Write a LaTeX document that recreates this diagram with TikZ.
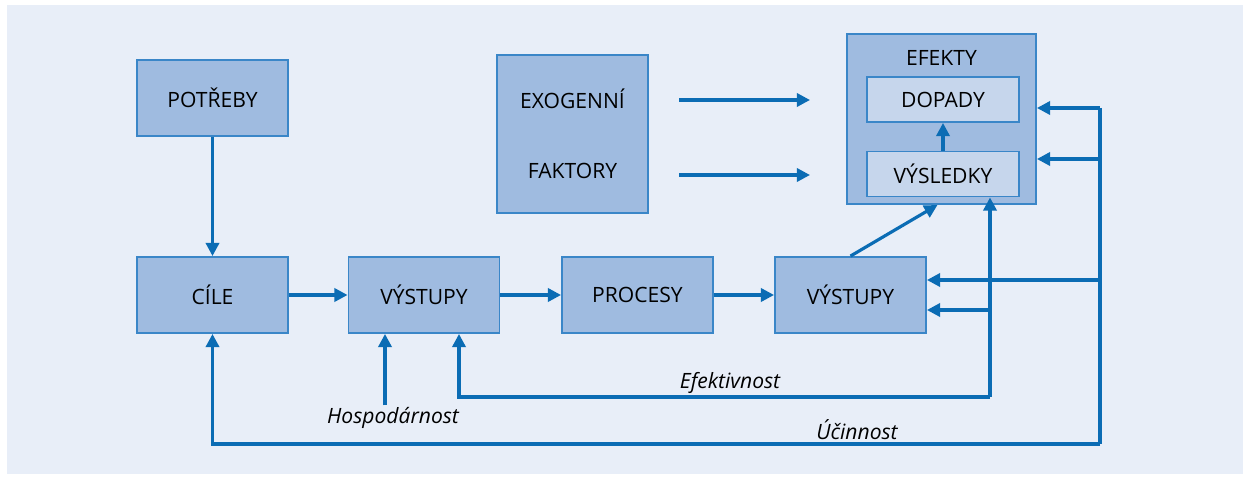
\documentclass[tikz,border=0pt]{standalone}
\usepackage{fontspec}
\setmainfont{Open Sans}
\usetikzlibrary{arrows.meta,positioning}
\definecolor{bgblue}{HTML}{E8EEF8}
\definecolor{boxblue}{HTML}{9FBBE0}
\definecolor{innerblue}{HTML}{C6D6EC}
\definecolor{lineblue}{HTML}{0B6CB4}
\definecolor{edgeblue}{HTML}{3A86C8}

\tikzset{
  box/.style={draw=edgeblue, fill=boxblue, line width=1.1pt, minimum width=3.02cm, minimum height=1.52cm, inner sep=0pt, font=\fontsize{12}{14}\selectfont},
  innerbox/.style={draw=edgeblue, fill=innerblue, line width=1.1pt, minimum width=3.04cm, minimum height=0.9cm, inner sep=0pt, font=\fontsize{12}{14}\selectfont},
  arr/.style={draw=lineblue, line width=1.8pt, -{Triangle[length=7.5pt,width=7.5pt]}},
  wire/.style={draw=lineblue, line width=1.8pt},
  lbl/.style={font=\fontsize{12}{14}\selectfont\itshape, inner sep=1pt}
}

\begin{document}
\begin{tikzpicture}[x=0.02cm, y=-0.02cm]
    % background
    \useasboundingbox (0,0) rectangle (1250,479);
    \fill[bgblue] (7,5) rectangle (1243,474);

    % top row
    \node[box] (potreby) at (212.5,98) {POTŘEBY};
    \node[box, minimum height=3.16cm, align=center, font=\fontsize{12}{40}\selectfont] (exo) at (572.5,134) {EXOGENNÍ\\FAKTORY};

    % effects block
    \node[box, minimum width=3.78cm, minimum height=3.4cm] (efekty) at (941.5,119) {};
    \node[font=\fontsize{12}{14}\selectfont, inner sep=0pt] (eflabel) at (941.5,58) {EFEKTY};
    \node[innerbox] (dopady) at (943,99.5) {DOPADY};
    \node[innerbox] (vysledky) at (943,174) {VÝSLEDKY};

    % main row
    \node[box] (cile) at (212.5,295) {CÍLE};
    \node[box] (vystupy1) at (424,295) {VÝSTUPY};
    \node[box] (procesy) at (637.5,295) {PROCESY};
    \node[box] (vystupy2) at (850.5,295) {VÝSTUPY};

    % free ends
    \coordinate (exoA) at (679,100);
    \coordinate (exoB) at (679,175);
    \coordinate (busTop) at (1100,108);
    \coordinate (busMid) at (1100,159);
    \coordinate (busOut) at (1100,280);
    \coordinate (busBot) at (1100,444);
    \coordinate (effTop) at (990,310);
    \coordinate (effBot) at (990,397);

    % connectors
    \draw[arr] (exoA) -- ++(131,0);
    \draw[arr] (exoB) -- ++(131,0);
    \draw[arr] (potreby) -- (cile);
    \draw[arr] (cile) -- (vystupy1);
    \draw[arr] (vystupy1) -- (procesy);
    \draw[arr] (procesy) -- (vystupy2);
    \draw[arr] (vystupy2.north) -- ([xshift=-0.08cm]efekty.south);
    \draw[arr] (vysledky) -- (dopady);

    % feedback lines
    \draw[wire] (busTop) -- (busBot);
    \draw[arr] (busTop) -- (busTop -| efekty.east);
    \draw[arr] (busMid) -- (busMid -| efekty.east);
    \draw[arr] (busOut) -- (busOut -| vystupy2.east);
    \draw[arr] (effBot) -- (effBot |- vysledky.south);
    \draw[arr] (effTop) -- (effTop -| vystupy2.east);
    \draw[arr] (effBot) -| ([xshift=0.7cm]vystupy1.south);
    \draw[arr] (busBot) -| (cile.south);

    % labels
    \node[lbl] (efekt) at (730,383) {Efektivnost};
    \node[lbl] (ucin) at (857,430) {Účinnost};
    \node[lbl] (hosp) at (393,418) {Hospodárnost};
    \draw[arr] ([xshift=-0.16cm]hosp.north) -- ([xshift=-0.16cm]hosp.north |- vystupy1.south);
\end{tikzpicture}
\end{document}
